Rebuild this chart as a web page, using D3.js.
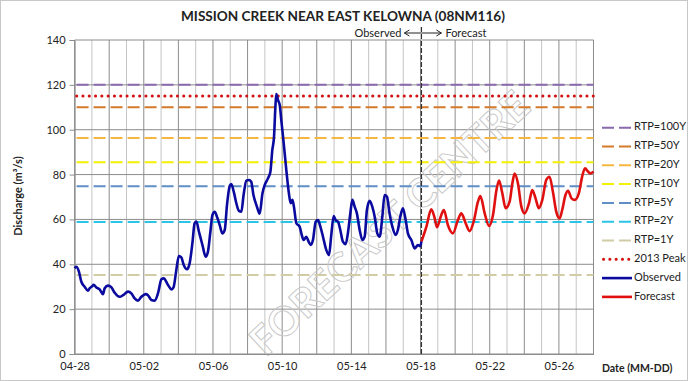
<!DOCTYPE html>
<html>
<head>
<meta charset="utf-8">
<script src="https://cdn.jsdelivr.net/npm/d3@7"></script>
<style>
  body { margin: 0; background: #fff; }
  text { font-family: Lato, "Open Sans", sans-serif; fill: #222; }
</style>
</head>
<body>
<div id="plot"></div>
<script>
// data (day = days since 04-28, value = m3/s)
const obsDay = [0.00,0.10,0.25,0.39,0.58,0.77,0.87,1.03,1.10,1.26,1.45,1.64,1.74,1.93,2.13,2.32,2.61,2.80,3.09,3.28,3.47,3.66,3.86,4.11,4.24,4.44,4.63,4.82,5.02,5.15,5.40,5.60,5.73,5.88,6.03,6.17,6.31,6.50,6.65,6.81,6.94,7.04,7.19,7.39,7.58,7.71,7.85,7.97,8.10,8.23,8.39,8.54,8.68,8.81,8.97,9.06,9.20,9.35,9.50,9.64,9.77,9.93,10.08,10.21,10.34,10.54,10.70,10.86,10.99,11.18,11.32,11.43,11.53,11.61,11.66,11.76,11.86,11.95,12.09,12.24,12.39,12.49,12.59,12.68,12.82,13.01,13.11,13.24,13.40,13.53,13.65,13.78,13.94,14.07,14.21,14.36,14.55,14.71,14.84,14.98,15.09,15.23,15.36,15.51,15.67,15.80,15.94,16.06,16.19,16.32,16.48,16.64,16.77,16.90,17.06,17.21,17.35,17.50,17.64,17.79,17.92,18.06,18.21,18.37,18.56,18.69,18.83,18.98,19.14,19.27,19.47,19.66,19.85,19.99,20.05];
const obsFlow = [38.2,38.9,36.7,32.2,30.0,28.2,29.3,30.3,30.9,29.7,28.8,26.7,29.3,30.5,29.7,27.3,25.5,26.2,27.8,27.0,24.8,23.8,25.5,26.7,26.2,24.1,23.8,27.0,33.3,33.7,30.8,28.8,30.0,37.4,43.7,43.1,39.7,37.8,40.4,49.4,58.3,59.0,54.5,48.6,43.4,45.6,54.5,62.0,63.4,61.2,57.5,53.8,55.3,66.4,75.0,75.8,72.4,67.2,63.8,63.4,70.9,77.3,77.6,76.8,70.9,65.7,62.5,71.6,75.3,78.3,81.3,90.9,96.9,110.3,115.9,113.2,111.0,104.3,93.9,82.0,71.6,67.2,68.7,65.7,58.3,56.8,53.8,50.8,52.3,50.1,48.6,50.8,59.0,59.7,56.8,52.3,46.4,44.1,53.1,61.5,59.7,59.0,55.3,50.1,49.0,53.8,62.7,68.7,65.7,62.7,55.3,50.8,52.3,64.2,68.3,65.7,61.2,53.8,52.3,61.2,70.9,70.1,62.7,56.8,53.1,55.3,61.2,65.0,59.7,53.8,50.8,47.1,48.6,48.1,50.1];

const fcDay = [20.05,20.34,20.62,20.82,20.95,21.20,21.35,21.58,21.87,22.16,22.36,22.61,22.84,23.07,23.32,23.46,23.71,23.96,24.19,24.39,24.54,24.73,24.92,25.15,25.31,25.44,25.63,25.83,26.02,26.27,26.46,26.65,26.84,27.04,27.27,27.46,27.65,27.85,28.04,28.19,28.38,28.53,28.73,28.92,29.15,29.34,29.51,29.69,29.83,30.00];
const fcFlow = [50.1,56.8,64.5,60.5,56.5,62.0,64.2,57.5,53.8,59.7,62.7,58.3,54.8,59.0,67.9,70.4,62.7,57.1,62.0,73.1,77.3,71.6,65.0,67.9,76.1,80.5,76.1,65.7,62.7,67.2,73.1,69.4,65.0,68.7,77.6,79.0,72.4,63.4,60.5,64.2,70.9,72.8,69.4,68.7,71.6,79.0,82.8,81.3,80.5,81.3];

const rtpNames = ["RTP=100Y", "RTP=50Y", "RTP=20Y", "RTP=10Y", "RTP=5Y", "RTP=2Y", "RTP=1Y"];
const rtpValues = [120, 110, 96.3, 85.5, 74.8, 58.8, 35.2];
const peak2013 = 115;
const yTicks = [0, 20, 40, 60, 80, 100, 120, 140];
const xTickLabels = ["04-28", "05-02", "05-06", "05-10", "05-14", "05-18", "05-22", "05-26"];

const rtpColors = ["#8a6aae", "#d47a2a", "#f6b640", "#f4f000", "#5f8fc6", "#2cc3e6", "#d2cca6"];

const w = 688, h = 381;
const start = new Date(2018, 3, 28);
const toDate = d => d3.timeMinute.offset(start, Math.round(d * 1440));

const svg = d3.select("div#plot").append("svg")
  .attr("width", w).attr("height", h);

svg.append("rect").attr("x", 0.5).attr("y", 0.5)
  .attr("width", w - 1).attr("height", h - 1)
  .attr("fill", "#fff").attr("stroke", "#c8c8c8");

const x = d3.scaleTime()
  .domain([start, toDate(30)])
  .range([74.6, 593.5]);
const y = d3.scaleLinear().domain([0, 140]).range([354, 40]);

// vertical grid, one line a day, darker every two days
const days = d3.range(0, 31);
svg.append("g").selectAll("line").data(days).enter().append("line")
  .attr("x1", d => x(toDate(d))).attr("x2", d => x(toDate(d)))
  .attr("y1", y(140)).attr("y2", y(0))
  .attr("stroke", d => d % 2 === 0 ? "#8c8c8c" : "#c4c4c4")
  .attr("stroke-width", 1);

// horizontal grid
svg.append("g").selectAll("line").data(yTicks).enter().append("line")
  .attr("x1", x.range()[0]).attr("x2", x.range()[1])
  .attr("y1", d => y(d)).attr("y2", d => y(d))
  .attr("stroke", "#8c8c8c").attr("stroke-width", 1);

// watermark
svg.append("text")
  .attr("transform", "translate(392,226) rotate(-43)")
  .attr("text-anchor", "middle")
  .attr("dominant-baseline", "middle")
  .style("font-size", "40px").style("font-weight", "bold")
  .style("fill", "none").style("stroke", "#c6c6c6").style("stroke-width", 0.9)
  .text("FORECAST CENTRE");

// y axis
const yAxis = svg.append("g")
  .attr("transform", `translate(${x.range()[0]},0)`)
  .call(d3.axisLeft(y).tickValues(yTicks).tickSize(5).tickPadding(4));
yAxis.select(".domain").attr("stroke", "#8c8c8c");
yAxis.selectAll(".tick line").attr("stroke", "#8c8c8c");
yAxis.selectAll(".tick text").style("font-size", "11px").style("fill", "#222");

// x axis
const xAxis = svg.append("g")
  .attr("transform", `translate(0,${y(0)})`)
  .call(d3.axisBottom(x)
    .tickValues(xTickLabels.map(s => d3.timeParse("%Y-%m-%d")("2018-" + s)))
    .tickFormat(d3.timeFormat("%m-%d"))
    .tickSize(0).tickPadding(8));
xAxis.select(".domain").attr("stroke", "#8c8c8c");
xAxis.selectAll(".tick text").style("font-size", "11px").style("fill", "#222");

// return period lines
svg.append("g").selectAll("line").data(rtpValues).enter().append("line")
  .attr("x1", x.range()[0] + 2).attr("x2", x.range()[1])
  .attr("y1", d => y(d)).attr("y2", d => y(d))
  .attr("stroke", (d, i) => rtpColors[i])
  .attr("stroke-width", 2)
  .attr("stroke-dasharray", "12,5");

svg.append("line")
  .attr("x1", x.range()[0] + 2).attr("x2", x.range()[1])
  .attr("y1", y(peak2013)).attr("y2", y(peak2013))
  .attr("stroke", "#d41010").attr("stroke-width", 3)
  .attr("stroke-linecap", "round")
  .attr("stroke-dasharray", "0.1,6.2");

// observed / forecast divider
const xSplit = x(toDate(20.05));
svg.append("line")
  .attr("x1", xSplit).attr("x2", xSplit)
  .attr("y1", 27).attr("y2", y(0))
  .attr("stroke", "#333").attr("stroke-width", 1.3)
  .attr("stroke-dasharray", "5,2");

svg.append("text").attr("x", xSplit - 20).attr("y", 37)
  .attr("text-anchor", "end").style("font-size", "11px").text("Observed");
svg.append("text").attr("x", xSplit + 24).attr("y", 37)
  .style("font-size", "11px").text("Forecast");

const arrow = (x0, x1) => {
  const dir = Math.sign(x1 - x0);
  svg.append("path")
    .attr("d", `M${x0},33 L${x1},33 M${x1 - dir * 5},30 L${x1},33 L${x1 - dir * 5},36`)
    .attr("fill", "none").attr("stroke", "#222").attr("stroke-width", 1);
};
arrow(xSplit, xSplit - 17);
arrow(xSplit, xSplit + 20);

// flow lines
const line = d3.line()
  .x(d => x(toDate(d[0])))
  .y(d => y(d[1]))
  .curve(d3.curveMonotoneX);

svg.append("path")
  .datum(fcDay.map((d, i) => [d, fcFlow[i]]))
  .attr("d", line)
  .attr("fill", "none").attr("stroke", "#e01010").attr("stroke-width", 2.6);

svg.append("path")
  .datum(obsDay.map((d, i) => [d, obsFlow[i]]))
  .attr("d", line)
  .attr("fill", "none").attr("stroke", "#0a0a9e").attr("stroke-width", 2.6);

// titles
svg.append("text").attr("x", 343).attr("y", 21)
  .attr("text-anchor", "middle")
  .style("font-size", "13.6px").style("font-weight", "bold")
  .text("MISSION CREEK NEAR EAST KELOWNA (08NM116)");

svg.append("text")
  .attr("transform", "translate(22,196) rotate(-90)")
  .attr("text-anchor", "middle")
  .style("font-size", "11px").style("font-weight", "bold")
  .text("Discharge (m³/s)");

svg.append("text").attr("x", 602).attr("y", 372)
  .style("font-size", "10.5px").style("font-weight", "bold")
  .text("Date (MM-DD)");

// legend
const legendNames = rtpNames.concat(["2013 Peak", "Observed", "Forecast"]);
const legend = svg.append("g").selectAll("g").data(legendNames).enter().append("g")
  .attr("transform", (d, i) => `translate(602,${127.7 + i * 18.8})`);

legend.append("line")
  .attr("x1", 0).attr("x2", 30).attr("y1", 0).attr("y2", 0)
  .each(function(d, i) {
    const el = d3.select(this);
    if (i < 7) {
      el.attr("stroke", rtpColors[i]).attr("stroke-width", 2).attr("stroke-dasharray", "12,5");
    } else if (i === 7) {
      el.attr("stroke", "#d41010").attr("stroke-width", 3)
        .attr("stroke-linecap", "round").attr("stroke-dasharray", "0.1,6.2")
        .attr("x1", 1.5);
    } else {
      el.attr("stroke", i === 8 ? "#0a0a9e" : "#e01010").attr("stroke-width", 2.6);
    }
  });

legend.append("text").attr("x", 32).attr("y", 0)
  .attr("dominant-baseline", "middle")
  .style("font-size", "11px")
  .text(d => d);
</script>
</body>
</html>
